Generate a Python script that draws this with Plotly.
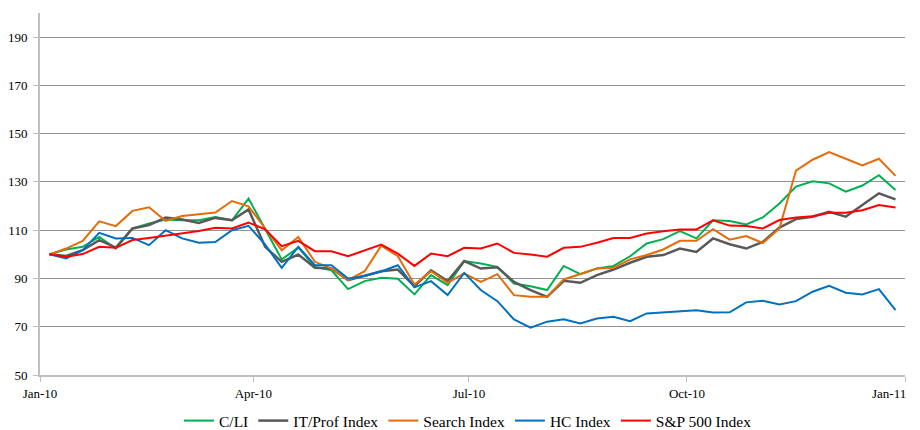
import plotly.graph_objects as go
import pandas as pd

dates = pd.date_range("2010-01-05", periods=52, freq="7D")

tick_dates = ["2010-01-01", "2010-04-01", "2010-07-01", "2010-10-01", "2011-01-01"]
tick_labels = ["Jan-10", "Apr-10", "Jul-10", "Oct-10", "Jan-11"]

cli = [100, 102, 103.1, 107.2, 102.4, 110.7, 112.8, 114.4, 114.1, 114.1, 115.5, 114.1, 123.1, 110.5,
       97.9, 102.8, 94.8, 93.4, 85.6, 88.9, 90.3, 89.9, 83.4, 91.4, 87.2, 97.2, 96.2, 94.8, 87.9,
       86.8, 85.2, 95.2, 91.8, 94.1, 95.2, 99.2, 104.5, 106.3, 109.6, 106.6, 114.1, 113.8, 112.4,
       115.3, 121.1, 128.1, 130.3, 129.4, 126, 128.5, 132.8, 126.7]
it_prof = [100, 99.3, 101.7, 105.9, 102.8, 110.7, 112.1, 115.2, 114.4, 113, 115.1, 114.1, 118.6, 103.1,
           96.9, 99.9, 94.4, 94.1, 89.3, 91, 93, 93.7, 86.8, 93.4, 88.9, 97.2, 94.1, 94.6, 88.6,
           85.2, 82.4, 89, 88.2, 91.4, 93.7, 96.5, 99, 99.7, 102.4, 101, 106.6, 104.2, 102.4,
           105.1, 111.1, 114.6, 115.6, 117.6, 115.6, 120.4, 125.3, 122.8]
search = [100, 102.4, 105.6, 113.7, 111.7, 118, 119.5, 113.9, 115.9, 116.6, 117.3, 122.1, 119.9, 110.7,
          101.7, 107.2, 96.9, 94.1, 89.3, 93, 103.6, 99.2, 87.5, 93, 88.2, 92.1, 88.6, 91.8, 83.1,
          82.4, 82.4, 89.6, 91.8, 94.1, 94.4, 97.9, 99.7, 102, 105.6, 105.6, 110.4, 106.1, 107.6,
          104.7, 110.7, 134.7, 139.2, 142.4, 139.6, 136.8, 139.6, 132.5]
hc = [100, 98.3, 101.7, 108.9, 106.6, 106.8, 103.8, 110, 106.6, 104.8, 105.1, 110, 111.8, 104,
      94.4, 103.1, 95.5, 95.5, 90, 91, 92.9, 95.5, 86.3, 88.9, 83.1, 92.3, 85.2, 80.6, 73,
      69.6, 72.1, 73.1, 71.4, 73.4, 74.1, 72.3, 75.5, 75.9, 76.4, 76.8, 75.9, 76, 80.1,
      80.8, 79.2, 80.6, 84.5, 87, 84.1, 83.4, 85.6, 76.9]
sp500 = [100, 99, 100.1, 103.1, 102.7, 105.9, 106.8, 107.8, 108.6, 109.7, 111, 110.7, 113.2, 110.4,
         103.4, 105.6, 101.3, 101.3, 99.2, 101.7, 104, 100.3, 95.2, 100.3, 99.2, 102.7, 102.4, 104.5, 100.6,
         99.9, 99, 102.7, 103.1, 104.8, 106.8, 106.8, 108.6, 109.6, 110.3, 110.3, 114.1, 111.9, 111.7,
         110.7, 114.2, 115.3, 115.8, 117.2, 117.2, 118.3, 120.4, 119.4]

series = [
    ("C/LI", cli, "#00B050", 2),
    ("IT/Prof Index", it_prof, "#595959", 2.5),
    ("Search Index", search, "#E46C0A", 2),
    ("HC Index", hc, "#0070C0", 2),
    ("S&P 500 Index", sp500, "#FF0000", 2),
]

fig = go.Figure()
for name, vals, color, w in series:
    fig.add_trace(go.Scatter(x=dates, y=vals, mode="lines", name=name,
                             line=dict(color=color, width=w)))

serif = "Liberation Serif, Times New Roman, serif"

# last tick label is right-aligned at its tick (as in the reference), others centred
shown_labels = tick_labels[:-1] + [""]

fig.update_layout(
    width=920, height=430,
    margin=dict(l=32, r=23, t=5, b=63),
    paper_bgcolor="white", plot_bgcolor="white",
    font=dict(family=serif, size=13, color="#000000"),
    showlegend=True,
    legend=dict(orientation="h", x=0.5, xanchor="center", xref="container",
                y=0.0395, yanchor="middle", yref="container",
                font=dict(family=serif, size=15.5), tracegroupgap=0),
    xaxis=dict(range=[tick_dates[0], tick_dates[-1]], tickmode="array",
               tickvals=tick_dates, ticktext=shown_labels,
               showgrid=False, showline=True, linecolor="#BFBFBF",
               linewidth=2, ticks="outside", ticklen=5, tickcolor="#BFBFBF", zeroline=False,
               automargin=False, ticklabelstandoff=0),
    yaxis=dict(range=[50, 200], tick0=50, dtick=20, showgrid=True, gridcolor="#939393",
               gridwidth=1, showline=True, linecolor="#BFBFBF", linewidth=2,
               ticks="outside", ticklen=5, tickcolor="#BFBFBF", zeroline=False,
               automargin=False, ticklabelstandoff=3, tickfont=dict(family=serif, size=13)),
    annotations=[dict(x=tick_dates[-1], xref="x", y=-0.0511, yref="paper",
                      text=tick_labels[-1], showarrow=False, xanchor="right",
                      yanchor="middle", xshift=3, font=dict(family=serif, size=13))],
)

fig.write_html("out.html")
